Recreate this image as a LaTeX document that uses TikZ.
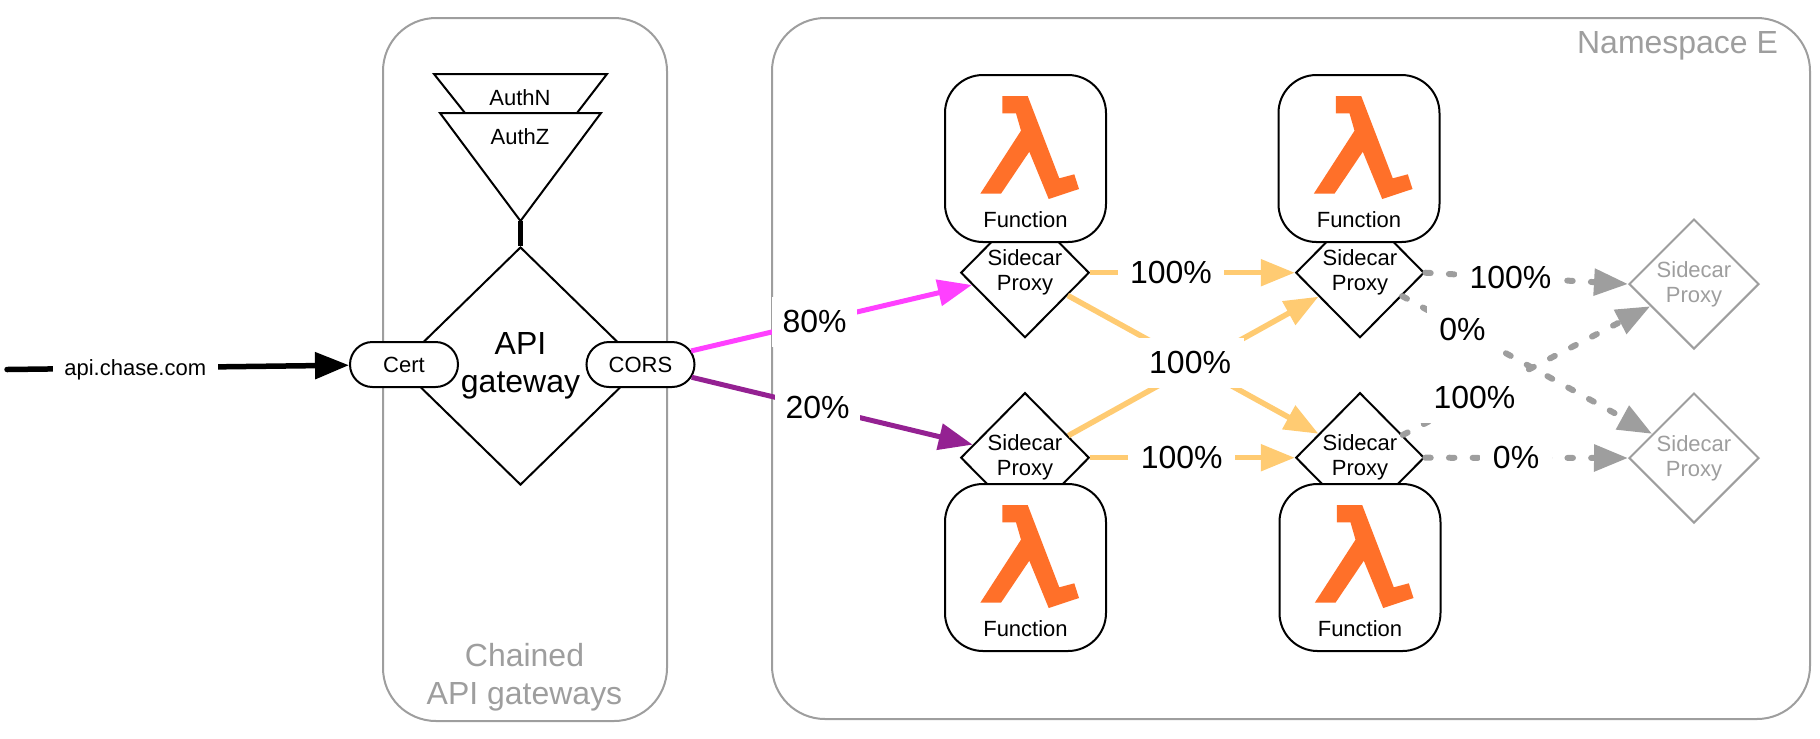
\documentclass[tikz,border=0pt]{standalone}
\usepackage{fontspec}
\setmainfont{Liberation Sans}
\usetikzlibrary{shapes.geometric,shapes.misc,arrows.meta,positioning}

\definecolor{greyline}{HTML}{9E9E9E}
\definecolor{softorange}{HTML}{FFCB72}
\definecolor{lambdaorange}{HTML}{FF7029}
\definecolor{hotpink}{HTML}{FF40FF}
\definecolor{plum}{HTML}{942192}

\newcommand{\bigfont}{\fontsize{9.1}{10.7}\selectfont}
\newcommand{\smallfont}{\fontsize{6.26}{7.1}\selectfont}

\tikzset{
  pics/function/.style={code={
    \node[draw,line width=.02cm,fill=white,rounded corners=.38cm,minimum width=1.61cm,minimum height=1.67cm] (-box) {};
    \fill[lambdaorange] (-.232,.625) -- (.022,.625) -- (.338,-.198) -- (.488,-.158) -- (.535,-.305)
      -- (.232,-.405) -- (.038,.068) -- (-.245,-.352) -- (-.452,-.352) -- (-.045,.278)
      -- (-.095,.452) -- (-.232,.452) -- cycle;
    \node[font=\smallfont] (-text) at (0,-.615) {Function};
  }}
}

\begin{document}
\begin{tikzpicture}[>={Triangle[length=.34cm,width=.26cm]},align=center,line width=.02cm,
  group box/.style={rectangle,draw=greyline,rounded corners=.53cm,inner sep=0},
  group text/.style={text=greyline,font=\bigfont,inner sep=0},
  proxy node/.style={diamond,draw,fill=white,inner sep=0,minimum width=1.285cm,minimum height=1.3cm,font=\smallfont},
  ghost node/.style={proxy node,draw=greyline,text=greyline,minimum width=1.3cm},
  pill node/.style={rounded rectangle,draw,fill=white,minimum width=1.08cm,minimum height=.45cm,inner sep=0,font=\smallfont},
  pct node/.style={fill=white,inner sep=.14cm,inner xsep=.125cm,font=\bigfont}]
  \useasboundingbox (0,0) rectangle (18.2,-7.38);

  \node[group box,minimum width=2.84cm,minimum height=7.03cm] (gateways) at (5.25,-3.695) {};
  \node[group box,minimum width=10.38cm,minimum height=7.01cm] (namespace) at (12.91,-3.685) {};
  \node[group text] (gatewaystext) at (5.245,-6.775) {Chained\\API gateways};
  \node[group text,anchor=east] (namespacetext) at (17.79,-.46) {Namespace E};

  % auth stack
  \draw[fill=white] (4.34,-.74) coordinate (authn) -- (6.07,-.74) -- (5.77,-1.13) -- (4.65,-1.13) -- cycle;
  \draw[fill=white] (4.40,-1.13) -- (6.01,-1.13) -- (5.205,-2.21) coordinate (authz) -- cycle;
  \node[font=\smallfont,inner sep=0] (authntext) at (5.2,-.974) {AuthN};
  \node[font=\smallfont,inner sep=0] (authztext) at (5.2,-1.365) {AuthZ};

  \node[diamond,draw,fill=white,inner sep=0,minimum width=2.44cm,minimum height=2.38cm,font=\bigfont] (gateway) at (5.205,-3.66) {API\\gateway};
  \node[pill node] (cert) at (4.04,-3.645) {Cert};
  \node[pill node] (cors) at (6.405,-3.645) {CORS};
  \coordinate (client) at (.07,-3.695);

  \draw[line width=.055cm] (authz) -- (gateway.north);

  \node[proxy node] (proxy1) at (10.25,-2.727) {Sidecar\\Proxy};
  \node[proxy node] (proxy2) [right=2.045cm of proxy1] {Sidecar\\Proxy};
  \node[proxy node] (proxy3) [below=.53cm of proxy1] {Sidecar\\Proxy};
  \node[proxy node] (proxy4) [right=2.045cm of proxy3] {Sidecar\\Proxy};
  \node[ghost node] (ghost1) at (16.94,-2.84) {Sidecar\\Proxy};
  \node[ghost node] (ghost2) at (16.94,-4.58) {Sidecar\\Proxy};

  \pic (fn1) at (10.255,-1.585) {function};
  \pic (fn2) at (13.59,-1.585) {function};
  \pic (fn3) at (10.255,-5.675) {function};
  \pic (fn4) at (13.60,-5.675) {function};

  \path[->,line width=.055cm]
    (client) edge[draw,line cap=round] node[pos=.375,yshift=-.02cm,fill=white,inner xsep=.115cm,inner ysep=.1cm,font=\smallfont] (apilabel) {api.chase.com} (cert);

  \path[->,line width=.05cm,every node/.style={pct node,inner xsep=.105cm}]
    (cors.15) edge[draw=hotpink] node[pos=.44] (pct80) {80\%} (proxy1.193)
    (cors.-14) edge[draw=plum] node[pos=.448] (pct20) {20\%} (proxy3.166);

  \path[->,line width=.055cm,every node/.style={pct node}]
    (proxy1.east) edge[draw=softorange] node[pos=.395] (pct1) {100\%} (proxy2.west)
    (proxy3.east) edge[draw=softorange] node[pos=.447] (pct2) {100\%} (proxy4.west)
    (proxy3.27) edge[draw=softorange] (proxy2.210)
    (proxy1.-28) edge[draw=softorange] node[pos=.488] (pct3) {100\%} (proxy4.150);

  \path[->,line width=.06cm,line cap=round,dash pattern=on .055cm off .182cm,every node/.style={pct node}]
    (proxy2.east) edge[draw=greyline] node[pos=.42] (pct4) {100\%} (ghost1.west)
    (proxy2.-29) edge[draw=greyline] node[pos=.241] (pct5) {0\%} (ghost2.150)
    (proxy4.28) edge[draw=greyline] node[pos=.29] (pct6) {100\%} (ghost1.207)
    (proxy4.east) edge[draw=greyline] node[pos=.448] (pct7) {0\%} (ghost2.west);
\end{tikzpicture}
\end{document}
